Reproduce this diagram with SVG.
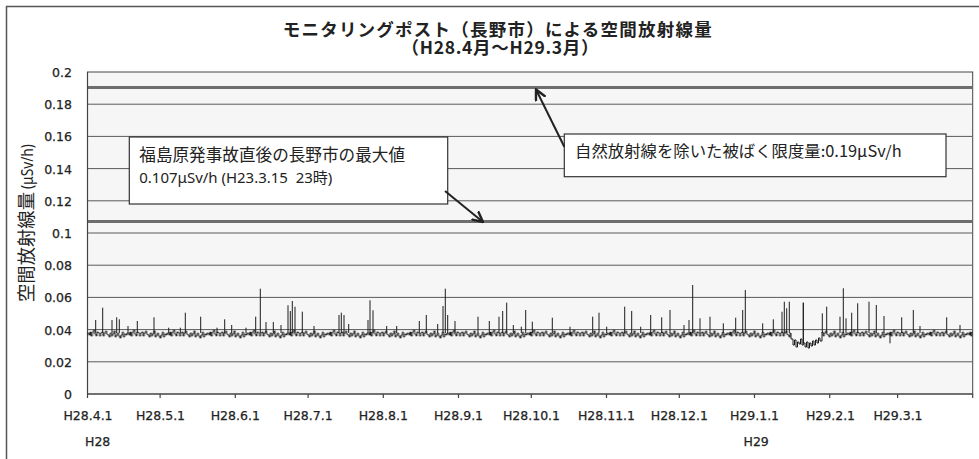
<svg xmlns="http://www.w3.org/2000/svg" width="979" height="459" viewBox="0 0 979 459">
<style>
.num{font-family:"DejaVu Sans","Noto Sans CJK JP",sans-serif;font-size:12.5px;fill:#222;stroke:#222;stroke-width:0.25}
.jp{font-family:"Noto Sans CJK JP","Noto Sans",sans-serif;fill:#222}
.lat{font-family:"Noto Sans","Noto Sans CJK JP",sans-serif;fill:#222}
.grid{stroke:#5a5a5a;stroke-width:1;fill:none}
.ref{stroke:#6e6e6e;stroke-width:3;fill:none}
.box{fill:#fff;stroke:#333;stroke-width:1.2}
.data{stroke:#1c1c1c;stroke-width:1;fill:none}
.arrow{stroke:#222;stroke-width:2;fill:none}
</style>
<defs>
<marker id="ah" viewBox="0 0 10 10" refX="9" refY="5" markerWidth="12" markerHeight="12" markerUnits="userSpaceOnUse" orient="auto">
<path d="M0 0.5 L9 5 L0 9.5" fill="none" stroke="#222" stroke-width="2"/>
</marker>
<pattern id="noise" patternUnits="userSpaceOnUse" x="87.5" y="326" width="40" height="14">
<path class="data" d="M0 7 H1.3 V9 H2.5 V6 H3.5 V10 H4.9 V6 H6.1 V4 H7.1 V8 H8.4 V10 H9.4 V6 H10.9 V7 H12 V10 H13.2 V7 H14.2 V6 H15.6 V10 H16.8 V7 H18.1 V5 H19.1 V8 H20.2 V9 H21.6 V11 H22.8 V7 H24.1 V10 H25.1 V8 H26.3 V5 H27.7 V11 H28.8 V9 H30 V7 H31 V10 H32.3 V12 H33.5 V9 H34.9 V6 H35.9 V11 H37.1 V8 H38.4 V9 H39.5 V7 H40"/>
</pattern>
</defs>
<rect width="979" height="459" fill="#fff"/>
<path d="M6.5 459 V6.5 H979" fill="none" stroke="#555" stroke-width="1.5"/>

<g id="title">
<text class="jp" text-anchor="middle" font-size="17.5" font-weight="bold"><tspan x="497.2" y="35.5" textLength="429" lengthAdjust="spacing">モニタリングポスト（長野市）による空間放射線量</tspan><tspan x="500" y="54" textLength="197" lengthAdjust="spacing">（H28.4月～H29.3月）</tspan></text>
</g>

<g id="plot">
<rect x="87.5" y="72" width="885.2" height="322" fill="#f6f6f6" stroke="#444" stroke-width="1"/>
<path class="grid" d="M87.5 104.2H972.7M87.5 136.4H972.7M87.5 168.6H972.7M87.5 200.8H972.7M87.5 233H972.7M87.5 265.2H972.7M87.5 297.4H972.7M87.5 329.6H972.7M87.5 361.8H972.7"/>
<path class="ref" d="M87.5 87.5H972.7M87.5 221.6H972.7"/>
</g>

<g id="y-axis">
<path d="M87.5 72V398" stroke="#444" stroke-width="1.2"/>
<g class="num" text-anchor="end" font-size="13">
<text x="72" y="77">0.2</text>
<text x="72" y="109.2">0.18</text>
<text x="72" y="141.4">0.16</text>
<text x="72" y="173.6">0.14</text>
<text x="72" y="205.8">0.12</text>
<text x="72" y="238">0.1</text>
<text x="72" y="270.2">0.08</text>
<text x="72" y="302.4">0.06</text>
<text x="72" y="334.6">0.04</text>
<text x="72" y="366.8">0.02</text>
<text x="72" y="399">0</text>
</g>
<text class="jp" transform="translate(32.5,302) rotate(-90)"><tspan x="0" y="0" font-size="18.5" textLength="110" lengthAdjust="spacingAndGlyphs">空間放射線量</tspan><tspan class="lat" dx="3" font-size="17" textLength="45" lengthAdjust="spacingAndGlyphs">(μSv/h)</tspan></text>
</g>

<g id="x-axis">
<path d="M87.5 394H972.7" stroke="#444" stroke-width="1.2"/>
<path d="M160.1 394v4M235.3 394v4M308.1 394v4M383.3 394v4M458.5 394v4M531.3 394v4M606.5 394v4M679.3 394v4M754.5 394v4M829.7 394v4M897.6 394v4M972.7 394v4" stroke="#444" stroke-width="1.2"/>
<g class="num" text-anchor="middle">
<text x="88" y="420">H28.4.1</text>
<text x="160.5" y="420">H28.5.1</text>
<text x="235.3" y="420">H28.6.1</text>
<text x="308.1" y="420">H28.7.1</text>
<text x="383.3" y="420">H28.8.1</text>
<text x="458.5" y="420">H28.9.1</text>
<text x="531.5" y="420">H28.10.1</text>
<text x="606.5" y="420">H28.11.1</text>
<text x="679.3" y="420">H28.12.1</text>
<text x="754.5" y="420">H29.1.1</text>
<text x="830.5" y="420">H29.2.1</text>
<text x="898" y="420">H29.3.1</text>
</g>
<text class="num" x="85" y="446">H28</text>
<text class="num" x="743.5" y="446">H29</text>
</g>

<g id="series">
<rect x="87.5" y="326" width="703.5" height="14" fill="url(#noise)"/>
<rect x="822" y="326" width="150.7" height="14" fill="url(#noise)"/>
<path class="data" d="M791 333 V339 H793 V345 H794.5 V340 H796 V347 H797.5 V342 H799 V344 H800.5 V339 H802 V345 H803.3 V302.7 V343 H805 V347 H806.5 V342 H808 V348 H809.5 V343 H811 V346 H812.5 V341 H814 V345 H815.5 V340 H817 V343 H818.5 V338 H820 V341 H822 V332"/>
<path class="data" d="M95.7 333V320M102.7 333V307.7M112 333V320M116.7 333V317.3M119.3 333V319.3M128 333V326M137.3 333V321M154 333V317.3M168.7 333V327.7M180.3 333V327.7M185.3 333V312.7M200.7 333V316.7M217 333V327.7M224.7 333V319.3M231.7 333V325M246 333V327.7M255.7 333V316.7M260.3 333V288.7M266 333V322M273.3 333V322M281 333V325M288 333V305.3M290.3 333V311M292.3 333V301M295 333V306.7M302.3 333V311.7M314 333V326M339 333V315M341.3 333V312.7M344 333V315M348.7 333V324M368 333V320M370 333V300.3M373 333V310.3M386.7 333V326M396.7 333V326M419.3 333V321M426.3 333V315M437.7 333V324M443 333V306M445.3 333V288.7M447.7 333V315M455 333V321M478 333V316.7M489.3 333V321M499 333V316.7M502.7 333V311M506.7 333V302.7M513.3 333V325M521.3 333V326.7M525.7 333V310M532.3 333V321.7M552.3 333V317.7M570 333V326.7M592.7 333V316.7M599 333V312.7M606.7 333V326.7M624.7 333V306.7M631.7 333V311M640.7 333V326.7M650.7 333V315M661.7 333V317.3M670 333V310M684 333V325M689 333V320M692.7 333V285M700 333V318.3M710 333V316.7M723.3 333V323.3M735.7 333V317.7M742.7 333V310M745.3 333V290M762.7 333V323.3M773.3 333V319.3M782 333V311.7M784.3 333V301.7M786.7 333V308.3M789.3 333V301.7M822.3 333V313.3M826.7 333V306.7M840 333V316.7M843.3 333V288.3M846 333V318.3M851.7 333V312.7M857.7 333V303.3M869 333V301.7M876.3 333V305M884 333V316M890 333V343.3M901.7 333V317.3M913.3 333V310M920 333V326M946.7 333V317.3M960 333V325"/>
</g>

<g id="note-max">
<rect class="box" x="129.3" y="137" width="318.4" height="67"/>
<text class="jp" x="139.3" y="161" font-size="17" textLength="265.7" lengthAdjust="spacingAndGlyphs">福島原発事故直後の長野市の最大値</text>
<text class="lat" x="139.3" y="183" font-size="15" textLength="193" lengthAdjust="spacing" xml:space="preserve">0.107μSv/h (H23.3.15  23時)</text>
</g>

<g id="note-limit">
<rect class="box" x="564.3" y="134" width="381.7" height="42.7"/>
<text class="jp" x="575" y="157" font-size="15.5" textLength="326.7" lengthAdjust="spacingAndGlyphs">自然放射線を除いた被ばく限度量:0.19μSv/h</text>
</g>

<g id="connectors">
<path class="arrow" d="M445 191 L483 222" marker-end="url(#ah)"/>
<path class="arrow" d="M564.3 146.7 L536 89.5" marker-end="url(#ah)"/>
</g>
</svg>
